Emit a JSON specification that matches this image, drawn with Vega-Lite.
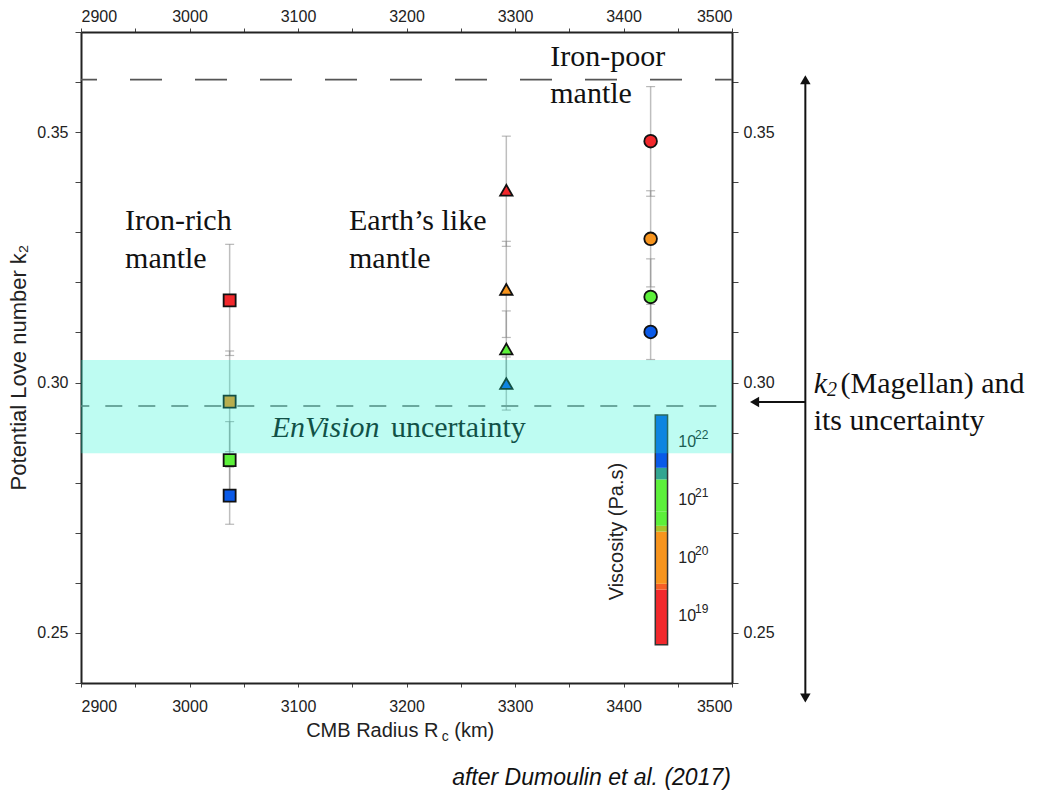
{
  "$schema": "https://vega.github.io/schema/vega-lite/v6.json",
  "autosize": "none",
  "width": 651,
  "height": 651,
  "padding": {"left": 81, "top": 32, "right": 312, "bottom": 115},
  "background": "white",
  "config": {
    "view": {"stroke": null},
    "font": "Liberation Sans",
    "axis": {
      "grid": false,
      "labelFont": "Liberation Sans",
      "labelFontSize": 16,
      "labelColor": "#222",
      "domainColor": "#222",
      "domainWidth": 2,
      "tickColor": "#444",
      "tickWidth": 1
    },
    "text": {"font": "Liberation Serif", "fontSize": 30, "color": "#111", "baseline": "alphabetic", "align": "left"}
  },
  "datasets": {
    "models": [
      {"mantle": "Iron-rich", "rc": 3037, "visc": 19, "k2": 0.3164, "lo": 0.3054, "hi": 0.3276},
      {"mantle": "Iron-rich", "rc": 3037, "visc": 20, "k2": 0.2962, "lo": 0.2862, "hi": 0.3063},
      {"mantle": "Iron-rich", "rc": 3037, "visc": 21, "k2": 0.2845, "lo": 0.2768, "hi": 0.2922},
      {"mantle": "Iron-rich", "rc": 3037, "visc": 22, "k2": 0.2774, "lo": 0.2717, "hi": 0.2831},
      {"mantle": "Earth-like", "rc": 3292, "visc": 19, "k2": 0.3384, "lo": 0.3272, "hi": 0.3492},
      {"mantle": "Earth-like", "rc": 3292, "visc": 20, "k2": 0.3186, "lo": 0.3090, "hi": 0.3282},
      {"mantle": "Earth-like", "rc": 3292, "visc": 21, "k2": 0.3067, "lo": 0.2991, "hi": 0.3143},
      {"mantle": "Earth-like", "rc": 3292, "visc": 22, "k2": 0.2998, "lo": 0.2945, "hi": 0.3051},
      {"mantle": "Iron-poor", "rc": 3425, "visc": 19, "k2": 0.3482, "lo": 0.3372, "hi": 0.3591},
      {"mantle": "Iron-poor", "rc": 3425, "visc": 20, "k2": 0.3287, "lo": 0.3191, "hi": 0.3383},
      {"mantle": "Iron-poor", "rc": 3425, "visc": 21, "k2": 0.3171, "lo": 0.3095, "hi": 0.3247},
      {"mantle": "Iron-poor", "rc": 3425, "visc": 22, "k2": 0.3101, "lo": 0.3046, "hi": 0.3156}
    ],
    "colorbar": [
      {"lo": 18.5, "hi": 19.45, "c": 19.0},
      {"lo": 19.45, "hi": 19.55, "c": 19.5},
      {"lo": 19.55, "hi": 20.45, "c": 20.0},
      {"lo": 20.45, "hi": 20.55, "c": 20.5},
      {"lo": 20.55, "hi": 20.8, "c": 20.68},
      {"lo": 20.8, "hi": 21.35, "c": 21.0},
      {"lo": 21.35, "hi": 21.55, "c": 21.45},
      {"lo": 21.55, "hi": 22.46, "c": 22.0}
    ],
    "decades": [
      {"v": 19, "e": "19"},
      {"v": 20, "e": "20"},
      {"v": 21, "e": "21"},
      {"v": 22, "e": "22"}
    ],
    "serif": [
      {"x": 2940.6, "y": 0.3304, "t": "Iron-rich"},
      {"x": 2940.6, "y": 0.3228, "t": "mantle"},
      {"x": 3147, "y": 0.3304, "t": "Earth’s like"},
      {"x": 3147, "y": 0.3228, "t": "mantle"},
      {"x": 3332.5, "y": 0.3633, "t": "Iron-poor"},
      {"x": 3332.5, "y": 0.3558, "t": "mantle"},
      {"x": 3185.6, "y": 0.2892, "t": "uncertainty"},
      {"x": 3600, "y": 0.29785, "t": "(Magellan) and"},
      {"x": 3575.3, "y": 0.29053, "t": "its uncertainty"}
    ],
    "serifItalic": [
      {"x": 3075.8, "y": 0.2892, "t": "EnVision"},
      {"x": 3575.3, "y": 0.29785, "t": "k"}
    ]
  },
  "layer": [
    {
      "layer": [
        {
          "data": {"values": [{"y": 0.3605}]},
          "mark": {"type": "rule", "color": "#555", "strokeWidth": 1.8, "strokeDash": [32, 33], "strokeDashOffset": 15},
          "encoding": {"y": {"field": "y", "type": "quantitative"}}
        },
        {
          "data": {"values": [{"y": 0.2953}]},
          "mark": {"type": "rule", "color": "#666", "strokeWidth": 1.6, "strokeDash": [17, 16], "strokeDashOffset": 17.3},
          "encoding": {"y": {"field": "y", "type": "quantitative"}}
        },
        {
          "data": {"name": "models"},
          "mark": {"type": "rule", "color": "#888", "opacity": 0.55, "strokeWidth": 1.5},
          "encoding": {
            "x": {"field": "rc", "type": "quantitative"},
            "y": {"field": "lo", "type": "quantitative"},
            "y2": {"field": "hi"}
          }
        },
        {
          "data": {"name": "models"},
          "mark": {"type": "tick", "orient": "horizontal", "size": 9, "thickness": 1.2, "color": "#888", "opacity": 0.6},
          "encoding": {
            "x": {"field": "rc", "type": "quantitative"},
            "y": {"field": "lo", "type": "quantitative"}
          }
        },
        {
          "data": {"name": "models"},
          "mark": {"type": "tick", "orient": "horizontal", "size": 9, "thickness": 1.2, "color": "#888", "opacity": 0.6},
          "encoding": {
            "x": {"field": "rc", "type": "quantitative"},
            "y": {"field": "hi", "type": "quantitative"}
          }
        },
        {
          "data": {"name": "models"},
          "mark": {"type": "point", "filled": true, "stroke": "#111", "strokeWidth": 1.8, "opacity": 1},
          "encoding": {
            "x": {
              "field": "rc", "type": "quantitative",
              "scale": {"domain": [2900, 3500], "nice": false, "zero": false},
              "axis": {
                "orient": "bottom", "title": null,
                "values": [2900, 2950, 3000, 3050, 3100, 3150, 3200, 3250, 3300, 3350, 3400, 3450, 3500],
                "format": "d",
                "labelExpr": "datum.value % 100 === 0 ? datum.label : ''",
                "tickSize": 4, "labelPadding": 11
              }
            },
            "y": {
              "field": "k2", "type": "quantitative",
              "scale": {"domain": [0.24, 0.37], "nice": false, "zero": false},
              "axis": {
                "orient": "left",
                "title": "Potential Love number k₂",
                "values": [0.24, 0.25, 0.26, 0.27, 0.28, 0.29, 0.3, 0.31, 0.32, 0.33, 0.34, 0.35, 0.36, 0.37],
                "format": ".2f",
                "labelExpr": "round(datum.value * 100) % 5 === 0 ? datum.label : ''",
                "tickSize": 6, "labelPadding": 7,
                "titleFont": "Liberation Sans", "titleFontSize": 22, "titleFontWeight": "normal",
                "titleColor": "#222", "titlePadding": 6, "titleY": 335
              }
            },
            "color": {
              "field": "visc", "type": "quantitative",
              "scale": {
                "domain": [19, 19.45, 19.55, 20, 20.45, 20.55, 21, 21.35, 21.55, 22],
                "range": ["#f2282c", "#f2282c", "#f7941d", "#f7941d", "#f7941d", "#5cf03a", "#5cf03a", "#5cf03a", "#0a5ae8", "#0a5ae8"],
                "interpolate": "rgb", "clamp": true
              },
              "legend": null
            },
            "shape": {
              "field": "mantle", "type": "nominal",
              "scale": {"domain": ["Iron-rich", "Earth-like", "Iron-poor"], "range": ["square", "triangle-up", "circle"]},
              "legend": null
            },
            "size": {
              "field": "mantle", "type": "ordinal",
              "scale": {"domain": ["Iron-rich", "Earth-like", "Iron-poor"], "range": [144, 160, 250]},
              "legend": null
            }
          }
        },
        {
          "data": {"name": "serif"},
          "mark": {"type": "text"},
          "encoding": {
            "x": {"field": "x", "type": "quantitative"},
            "y": {"field": "y", "type": "quantitative"},
            "text": {"field": "t"}
          }
        },
        {
          "data": {"name": "serifItalic"},
          "mark": {"type": "text", "fontStyle": "italic"},
          "encoding": {
            "x": {"field": "x", "type": "quantitative"},
            "y": {"field": "y", "type": "quantitative"},
            "text": {"field": "t"}
          }
        },
        {
          "data": {"values": [{"x": 3587.5, "y": 0.29785, "t": "2"}]},
          "mark": {"type": "text", "fontStyle": "italic", "fontSize": 20, "dy": 3},
          "encoding": {
            "x": {"field": "x", "type": "quantitative"},
            "y": {"field": "y", "type": "quantitative"},
            "text": {"field": "t"}
          }
        },
        {
          "data": {"values": [
            {"x": 3107.5, "y": 0.22923, "t": "CMB Radius R"},
            {"x": 3244, "y": 0.22923, "t": "(km)"}
          ]},
          "mark": {"type": "text", "font": "Liberation Sans", "fontSize": 20, "color": "#222"},
          "encoding": {
            "x": {"field": "x", "type": "quantitative"},
            "y": {"field": "y", "type": "quantitative"},
            "text": {"field": "t"}
          }
        },
        {
          "data": {"values": [{"x": 3232.5, "y": 0.22923, "t": "c"}]},
          "mark": {"type": "text", "font": "Liberation Sans", "fontSize": 14, "dy": 4, "color": "#222"},
          "encoding": {
            "x": {"field": "x", "type": "quantitative"},
            "y": {"field": "y", "type": "quantitative"},
            "text": {"field": "t"}
          }
        },
        {
          "data": {"values": [{"x": 3242.1, "y": 0.2196, "t": "after Dumoulin et al. (2017)"}]},
          "mark": {"type": "text", "font": "Liberation Sans", "fontStyle": "italic", "fontSize": 23, "color": "#111"},
          "encoding": {
            "x": {"field": "x", "type": "quantitative"},
            "y": {"field": "y", "type": "quantitative"},
            "text": {"field": "t"}
          }
        },
        {
          "data": {"values": [{"x": 3567.6, "y": 0.3605, "y2": 0.2372}]},
          "mark": {"type": "rule", "color": "#111", "strokeWidth": 2},
          "encoding": {
            "x": {"field": "x", "type": "quantitative"},
            "y": {"field": "y", "type": "quantitative"},
            "y2": {"field": "y2"}
          }
        },
        {
          "data": {"values": [{"x": 3567.6, "x2": 3521, "y": 0.2961}]},
          "mark": {"type": "rule", "color": "#111", "strokeWidth": 2},
          "encoding": {
            "x": {"field": "x", "type": "quantitative"},
            "x2": {"field": "x2"},
            "y": {"field": "y", "type": "quantitative"}
          }
        },
        {
          "data": {"values": [
            {"x": 3567.6, "y": 0.36045, "dir": "up"},
            {"x": 3567.6, "y": 0.23701, "dir": "down"},
            {"x": 3520.8, "y": 0.2961, "dir": "left"}
          ]},
          "mark": {"type": "point", "filled": true, "color": "#111", "size": 110, "opacity": 1},
          "encoding": {
            "x": {"field": "x", "type": "quantitative"},
            "y": {"field": "y", "type": "quantitative"},
            "shape": {
              "field": "dir", "type": "nominal",
              "scale": {"domain": ["up", "down", "left"], "range": ["triangle-up", "triangle-down", "triangle-left"]},
              "legend": null
            }
          }
        }
      ],
      "resolve": {"scale": {"shape": "independent"}}
    },
    {
      "layer": [
        {
          "data": {"name": "colorbar"},
          "mark": {"type": "rect"},
          "encoding": {
            "x": {"datum": 3429.3, "type": "quantitative", "axis": null},
            "x2": {"datum": 3440.6},
            "y": {
              "field": "lo", "type": "quantitative",
              "scale": {"domain": [17.84, 29.064], "nice": false, "zero": false},
              "axis": null
            },
            "y2": {"field": "hi"},
            "color": {
              "field": "c", "type": "quantitative",
              "scale": {
                "domain": [19, 19.45, 19.55, 20, 20.45, 20.55, 21, 21.35, 21.55, 22],
                "range": ["#f2282c", "#f2282c", "#f7941d", "#f7941d", "#f7941d", "#5cf03a", "#5cf03a", "#5cf03a", "#0a5ae8", "#0a5ae8"],
                "interpolate": "rgb", "clamp": true
              },
              "legend": null
            }
          }
        },
        {
          "data": {"values": [{"lo": 18.5, "hi": 22.46}]},
          "mark": {"type": "rect", "fillOpacity": 0, "stroke": "#333", "strokeWidth": 1.5},
          "encoding": {
            "x": {"datum": 3429.3, "type": "quantitative", "axis": null},
            "x2": {"datum": 3440.6},
            "y": {"field": "lo", "type": "quantitative", "axis": null},
            "y2": {"field": "hi"}
          }
        },
        {
          "data": {"name": "decades"},
          "mark": {"type": "text", "font": "Liberation Sans", "fontSize": 16, "baseline": "middle", "color": "#222"},
          "encoding": {
            "x": {"datum": 3450.5, "type": "quantitative", "axis": null},
            "y": {"field": "v", "type": "quantitative", "axis": null},
            "text": {"value": "10"}
          }
        },
        {
          "data": {"name": "decades"},
          "mark": {"type": "text", "font": "Liberation Sans", "fontSize": 12, "baseline": "middle", "dy": -7, "color": "#222"},
          "encoding": {
            "x": {"datum": 3466, "type": "quantitative", "axis": null},
            "y": {"field": "v", "type": "quantitative", "axis": null},
            "text": {"field": "e"}
          }
        },
        {
          "data": {"values": [{"v": 20.45, "t": "Viscosity (Pa.s)"}]},
          "mark": {"type": "text", "font": "Liberation Sans", "fontSize": 20, "angle": 270, "align": "center", "baseline": "middle", "color": "#222"},
          "encoding": {
            "x": {"datum": 3394, "type": "quantitative", "axis": null},
            "y": {"field": "v", "type": "quantitative", "axis": null},
            "text": {"field": "t"}
          }
        }
      ]
    },
    {
      "data": {"values": [{"x": 2900, "x2": 3500, "lo": 0.2859, "hi": 0.3045}]},
      "mark": {"type": "rect", "color": "#17f4d0", "opacity": 0.28},
      "encoding": {
        "x": {
          "field": "x", "type": "quantitative",
          "axis": {
            "orient": "top", "title": null,
            "values": [2900, 2950, 3000, 3050, 3100, 3150, 3200, 3250, 3300, 3350, 3400, 3450, 3500],
            "format": "d",
            "labelExpr": "datum.value % 100 === 0 ? datum.label : ''",
            "tickSize": 4, "labelPadding": 4
          }
        },
        "x2": {"field": "x2"},
        "y": {
          "field": "lo", "type": "quantitative",
          "scale": {"domain": [0.24, 0.37], "nice": false, "zero": false},
          "axis": {
            "orient": "right", "title": null,
            "values": [0.24, 0.25, 0.26, 0.27, 0.28, 0.29, 0.3, 0.31, 0.32, 0.33, 0.34, 0.35, 0.36, 0.37],
            "format": ".2f",
            "labelExpr": "round(datum.value * 100) % 5 === 0 ? datum.label : ''",
            "tickSize": 6, "labelPadding": 5
          }
        },
        "y2": {"field": "hi"}
      }
    }
  ],
  "resolve": {"scale": {"y": "independent"}, "axis": {"x": "independent", "y": "independent"}}
}
